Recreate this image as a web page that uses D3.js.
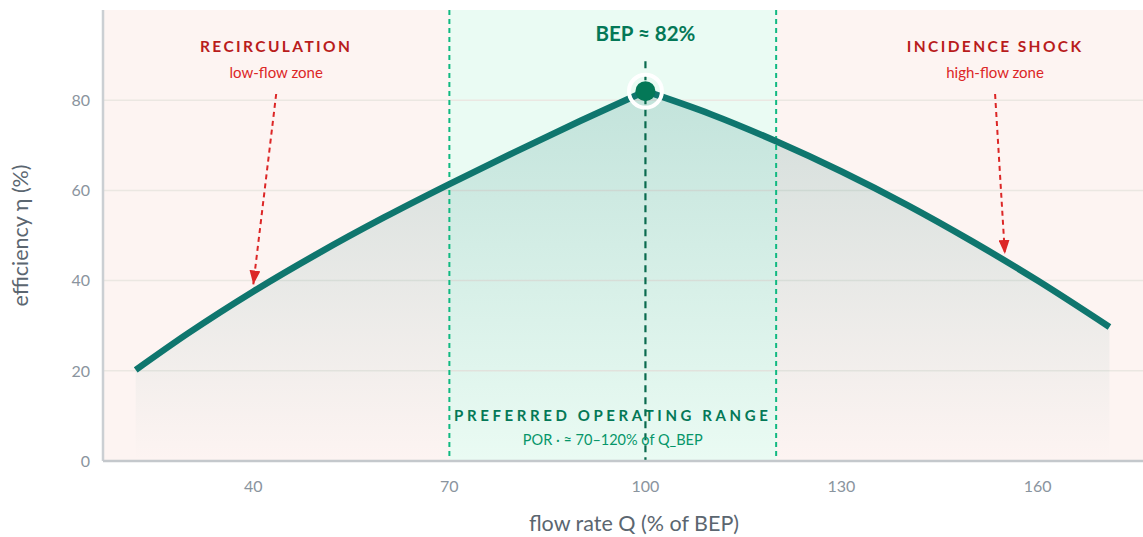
<!DOCTYPE html>
<html>
<head>
<meta charset="utf-8">
<script src="https://cdn.jsdelivr.net/npm/d3@7"></script>
<style>
  body { margin: 0; overflow: hidden; background: #fff; }
  svg { font-family: Lato, 'Noto Sans', sans-serif; display: block; }
</style>
</head>
<body>
<div id="chart"></div>
<script>
// pump efficiency curve
const flowQ = [22, 30, 40, 50, 60, 70, 80, 90, 100, 110, 120, 130, 140, 150, 160, 171];
const efficiency = [20.2, 28.3, 37.6, 46.1, 54.0, 61.4, 68.5, 75.4, 82, 76.9, 70.9, 64.2, 56.8, 48.7, 40.0, 29.7];
const xTicks = [40, 70, 100, 130, 160];
const yTicks = [0, 20, 40, 60, 80];
const porRange = [70, 120];
const bepFlow = 100;
const bepEta = 82;
const zoneLabels = [
  { q: 43.5, title: 'RECIRCULATION', sub: 'low-flow zone', arrowQ: 40 },
  { q: 153.5, title: 'INCIDENCE SHOCK', sub: 'high-flow zone', arrowQ: 155 }
];

const data = flowQ.map((q, i) => ({ q, eta: efficiency[i] }));
// rising and falling branches, so the peak stays a sharp corner
const branches = [data.filter(d => d.q <= bepFlow), data.filter(d => d.q >= bepFlow)];

const dims = {
  width: 1165,
  height: 537,
  margin: { top: 10, right: 0, bottom: 76, left: 103 }
};
dims.boundedWidth = dims.width - dims.margin.left - dims.margin.right;
dims.boundedHeight = dims.height - dims.margin.top - dims.margin.bottom;

const svg = d3.select('#chart')
  .append('svg')
  .attr('width', dims.width)
  .attr('height', dims.height);

const defs = svg.append('defs');

const x = d3.scaleLinear().domain([17, 179.5]).range([0, dims.boundedWidth]);
const y = d3.scaleLinear().domain([0, 100]).range([dims.boundedHeight, 0]);

// area gradient
const grad = defs.append('linearGradient')
  .attr('id', 'area-grad')
  .attr('gradientUnits', 'userSpaceOnUse')
  .attr('x1', 0).attr('x2', 0)
  .attr('y1', y(bepEta)).attr('y2', y(0));
grad.append('stop').attr('offset', '0%').attr('stop-color', '#0f766e').attr('stop-opacity', 0.18);
grad.append('stop').attr('offset', '100%').attr('stop-color', '#0f766e').attr('stop-opacity', 0.0);

defs.append('marker')
  .attr('id', 'red-arrow')
  .attr('markerUnits', 'userSpaceOnUse')
  .attr('markerWidth', 14).attr('markerHeight', 11)
  .attr('refX', 14).attr('refY', 5.5)
  .attr('orient', 'auto')
  .append('path')
  .attr('d', 'M0,0 L14,5.5 L0,11 Z')
  .attr('fill', '#dc2626');

const bounds = svg.append('g')
  .attr('transform', `translate(${dims.margin.left},${dims.margin.top})`);

// zone backgrounds
bounds.append('rect')
  .attr('x', 0).attr('y', 0)
  .attr('width', dims.boundedWidth).attr('height', dims.boundedHeight)
  .attr('fill', '#fdf4f2');
bounds.append('rect')
  .attr('x', x(porRange[0])).attr('y', 0)
  .attr('width', x(porRange[1]) - x(porRange[0])).attr('height', dims.boundedHeight)
  .attr('fill', '#eafbf3');

// grid
bounds.append('g')
  .selectAll('line')
  .data(yTicks.filter(d => d > 0))
  .enter()
  .append('line')
  .attr('x1', 0).attr('x2', dims.boundedWidth)
  .attr('y1', d => y(d)).attr('y2', d => y(d))
  .attr('stroke', '#ebe7e2')
  .attr('stroke-width', 1.5);

// area + curve
const area = d3.area().x(d => x(d.q)).y0(y(0)).y1(d => y(d.eta)).curve(d3.curveMonotoneX);
const line = d3.line().x(d => x(d.q)).y(d => y(d.eta)).curve(d3.curveMonotoneX);

bounds.append('path')
  .attr('d', area(branches[0]) + area(branches[1]))
  .attr('fill', 'url(#area-grad)');

// POR boundaries
bounds.append('g')
  .selectAll('line')
  .data(porRange)
  .enter()
  .append('line')
  .attr('x1', d => x(d)).attr('x2', d => x(d))
  .attr('y1', 0).attr('y2', dims.boundedHeight)
  .attr('stroke', '#10b981')
  .attr('stroke-width', 2)
  .attr('stroke-dasharray', '5,4');

bounds.append('path')
  .attr('d', line(branches[0]) + line(branches[1]).replace(/^M[^A-Za-z]*/, 'L' + x(bepFlow) + ',' + y(bepEta)))
  .attr('fill', 'none')
  .attr('stroke', '#0f766e')
  .attr('stroke-width', 6.5)
  .attr('stroke-linejoin', 'miter');

// BEP marker
bounds.append('line')
  .attr('x1', x(bepFlow)).attr('x2', x(bepFlow))
  .attr('y1', y(bepEta) - 30).attr('y2', dims.boundedHeight)
  .attr('stroke', '#0a6b4f')
  .attr('stroke-width', 2.2)
  .attr('stroke-dasharray', '7,5');
bounds.append('circle')
  .attr('cx', x(bepFlow)).attr('cy', y(bepEta))
  .attr('r', 16.5)
  .attr('fill', 'none')
  .attr('stroke', '#fff')
  .attr('stroke-width', 4);
bounds.append('circle')
  .attr('cx', x(bepFlow)).attr('cy', y(bepEta))
  .attr('r', 10)
  .attr('fill', '#047857');

bounds.append('text')
  .attr('x', x(bepFlow)).attr('y', 31)
  .attr('text-anchor', 'middle')
  .attr('font-size', 20.5)
  .attr('font-weight', 700)
  .attr('fill', '#047857')
  .text('BEP ≈ 82%');

// POR labels
const porMid = (porRange[0] + porRange[1]) / 2;
bounds.append('text')
  .attr('x', x(porMid)).attr('y', 411)
  .attr('text-anchor', 'middle')
  .attr('font-size', 15)
  .attr('font-weight', 700)
  .attr('letter-spacing', 3.6)
  .attr('fill', '#047857')
  .text('PREFERRED OPERATING RANGE');
bounds.append('text')
  .attr('x', x(porMid)).attr('y', 435)
  .attr('text-anchor', 'middle')
  .attr('font-size', 14.5)
  .attr('fill', '#059669')
  .text('POR · ≈ 70–120% of Q_BEP');

// off-design zone labels + arrows
const curveAt = q => d3.scaleLinear().domain(flowQ).range(efficiency)(q);
const zones = bounds.append('g')
  .selectAll('g')
  .data(zoneLabels)
  .enter()
  .append('g');
zones.append('text')
  .attr('x', d => x(d.q)).attr('y', 42)
  .attr('text-anchor', 'middle')
  .attr('font-size', 15.5)
  .attr('font-weight', 700)
  .attr('letter-spacing', 2.4)
  .attr('fill', '#b91c1c')
  .text(d => d.title);
zones.append('text')
  .attr('x', d => x(d.q)).attr('y', 67.5)
  .attr('text-anchor', 'middle')
  .attr('font-size', 15)
  .attr('fill', '#dc2626')
  .text(d => d.sub);
zones.append('line')
  .attr('x1', d => x(d.q)).attr('y1', 84)
  .attr('x2', d => x(d.arrowQ)).attr('y2', d => y(curveAt(d.arrowQ)) - 7)
  .attr('stroke', '#dc2626')
  .attr('stroke-width', 2)
  .attr('stroke-dasharray', '5,4')
  .attr('marker-end', 'url(#red-arrow)');

// axes
bounds.append('line')
  .attr('x1', 0).attr('x2', 0)
  .attr('y1', 0).attr('y2', dims.boundedHeight)
  .attr('stroke', '#cbcfd3').attr('stroke-width', 2.5);
bounds.append('line')
  .attr('x1', 0).attr('x2', dims.boundedWidth)
  .attr('y1', dims.boundedHeight).attr('y2', dims.boundedHeight)
  .attr('stroke', '#c4c8cc').attr('stroke-width', 2.5);

bounds.append('g')
  .selectAll('text')
  .data(yTicks)
  .enter()
  .append('text')
  .attr('x', -13)
  .attr('y', d => y(d))
  .attr('dy', '0.36em')
  .attr('text-anchor', 'end')
  .attr('font-size', 16)
  .attr('fill', '#8a949e')
  .text(d => d);

bounds.append('g')
  .selectAll('text')
  .data(xTicks)
  .enter()
  .append('text')
  .attr('x', d => x(d))
  .attr('y', dims.boundedHeight + 31)
  .attr('text-anchor', 'middle')
  .attr('font-size', 16)
  .attr('fill', '#8a949e')
  .text(d => d);

svg.append('text')
  .attr('x', dims.margin.left + dims.boundedWidth / 2)
  .attr('y', 531)
  .attr('text-anchor', 'middle')
  .attr('font-size', 21.5)
  .attr('fill', '#5b6670')
  .text('flow rate Q (% of BEP)');

svg.append('text')
  .attr('transform', `translate(28,${dims.margin.top + dims.boundedHeight / 2}) rotate(-90)`)
  .attr('text-anchor', 'middle')
  .attr('font-size', 21.5)
  .attr('fill', '#5b6670')
  .text('efficiency η (%)');
</script>
</body>
</html>
